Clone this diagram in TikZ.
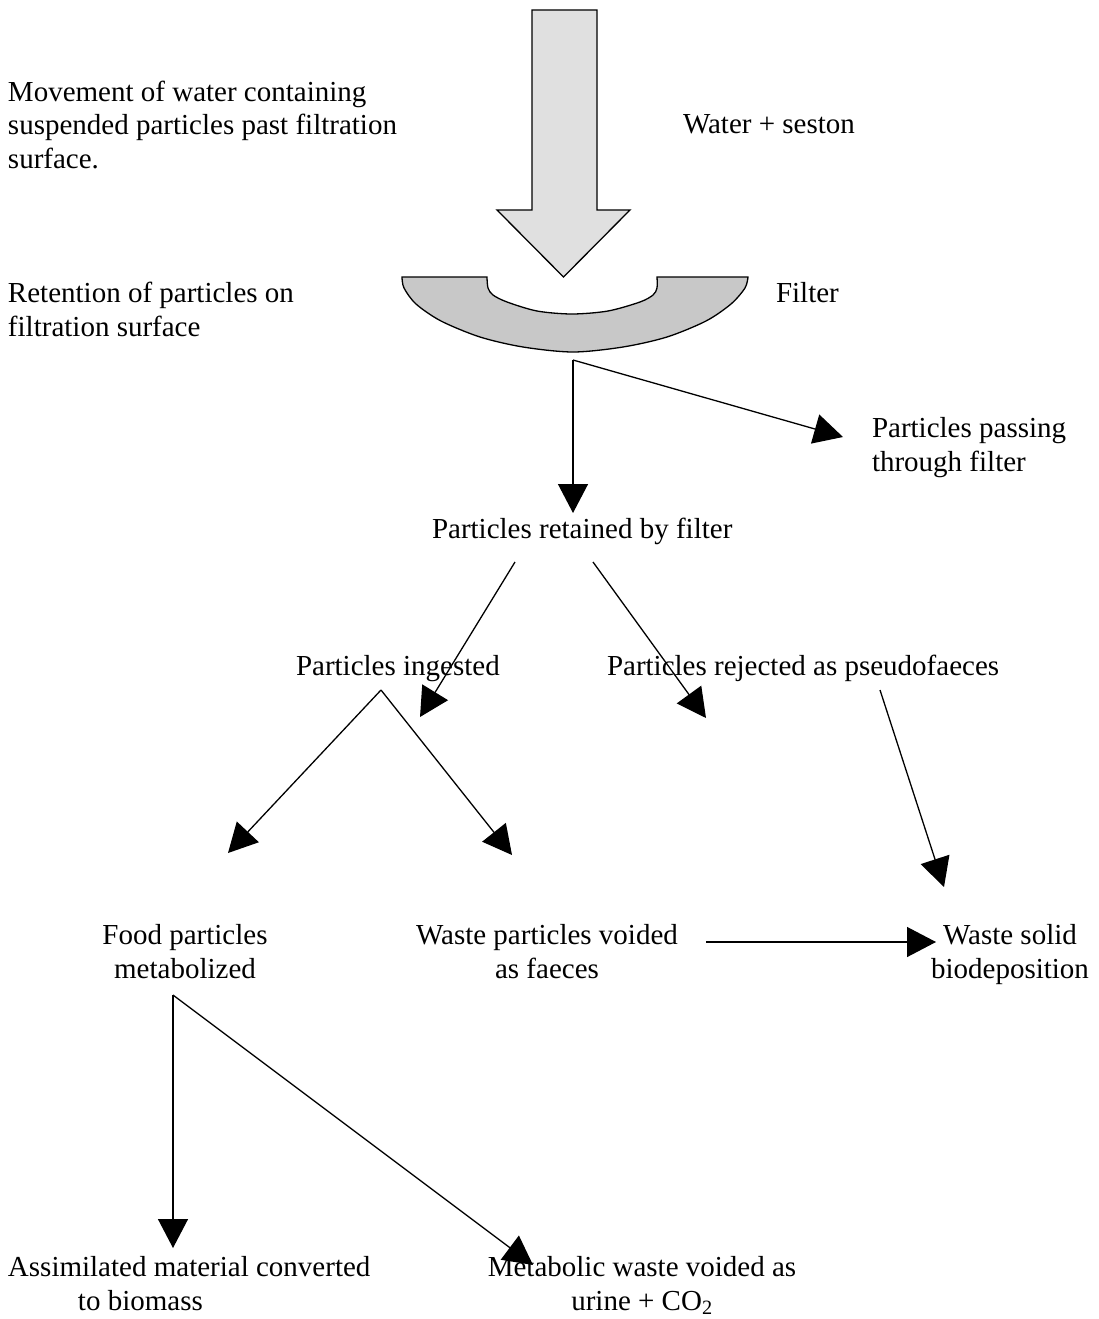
\documentclass[tikz,border=0pt]{standalone}
\usepackage{fontspec}
\setmainfont{Liberation Serif}
\usetikzlibrary{arrows.meta}
\definecolor{arrowgray}{HTML}{E0E0E0}
\definecolor{filtergray}{HTML}{C8C8C8}
\begin{document}
\begin{tikzpicture}[x=1pt,y=-1pt,
  txt/.style={font=\fontsize{29}{33.4}\selectfont, inner sep=0pt, outer sep=0pt},
  flow/.style={-{Triangle[length=29pt,width=30pt]}, line width=1.3pt},
  shapeline/.style={line width=1.3pt, line join=miter}]
\useasboundingbox (0,0) rectangle (1099,1319);

% big water arrow
\draw[shapeline, fill=arrowgray] (532,10) -- (597,10) -- (597,210) -- (630,210)
  -- (563.5,277) -- (497,210) -- (532,210) -- cycle;

% filter
\draw[shapeline, fill=filtergray] (402,277) -- (487,277)
  -- plot[smooth] coordinates {(487,277) (488,288) (493,295) (507,302) (537,311) (572,314) (608,311) (640,302) (653,295) (657,288) (657,277)}
  -- (748,277)
  -- plot[smooth] coordinates {(748,277) (745,288) (731,304) (706,321) (667,337) (623,347) (573,352) (523,347) (480,337) (441,321) (416,304) (404,288) (402,277)}
  -- cycle;

% texts (base anchor = baseline of the last line)
\node[txt, anchor=base west, align=left] (move) at (8,168) {Movement of water containing\\suspended particles past filtration\\surface.};
\node[txt, anchor=base west] (water) at (683,134) {Water + seston};
\node[txt, anchor=base west, align=left] (reten) at (8,336) {Retention of particles on\\filtration surface};
\node[txt, anchor=base west] (filter) at (776,302) {Filter};
\node[txt, anchor=base west, align=left] (pass) at (872,471) {Particles passing\\through filter};
\node[txt, anchor=base west] (ret) at (432,538) {Particles retained by filter};
\node[txt, anchor=base west] (ing) at (296,675) {Particles ingested};
\node[txt, anchor=base west] (rej) at (607,675) {Particles rejected as pseudofaeces};
\node[txt, anchor=base, align=center] (food) at (185,978) {Food particles\\metabolized};
\node[txt, anchor=base, align=center] (waste) at (547,978) {Waste particles voided\\as faeces};
\node[txt, anchor=base, align=center] (solid) at (1010,978) {Waste solid\\biodeposition};
\node[txt, anchor=base west, align=left] (assim) at (8,1310) {Assimilated material converted\\\hspace*{70pt}to biomass};
\node[txt, anchor=base, align=center] (metab) at (642,1310) {Metabolic waste voided as\\urine + CO\textsubscript{2}};

% connector end points
\coordinate (fb) at (573,360);
\coordinate (retT) at (573,513);
\coordinate (passT) at (843,437);
\coordinate (r1) at (515,562);
\coordinate (ingT) at (420,717);
\coordinate (r2) at (593,562);
\coordinate (rejT) at (706,718);
\coordinate (ia) at (381,690);
\coordinate (foodT) at (228,853);
\coordinate (wasteT) at (512,855);
\coordinate (ps) at (880,690);
\coordinate (solidA) at (944,887);
\coordinate (wf) at (706,942);
\coordinate (solidB) at (936,942);
\coordinate (fm) at (173,995);
\coordinate (assT) at (173,1248);
\coordinate (metT) at (533,1265);

% connectors
\draw[flow] (fb) -- (retT);
\draw[flow] (fb) -- (passT);
\draw[flow] (r1) -- (ingT);
\draw[flow] (r2) -- (rejT);
\draw[flow] (ia) -- (foodT);
\draw[flow] (ia) -- (wasteT);
\draw[flow] (ps) -- (solidA);
\draw[flow] (wf) -- (solidB);
\draw[flow] (fm) -- (assT);
\draw[flow] (fm) -- (metT);
\end{tikzpicture}
\end{document}
